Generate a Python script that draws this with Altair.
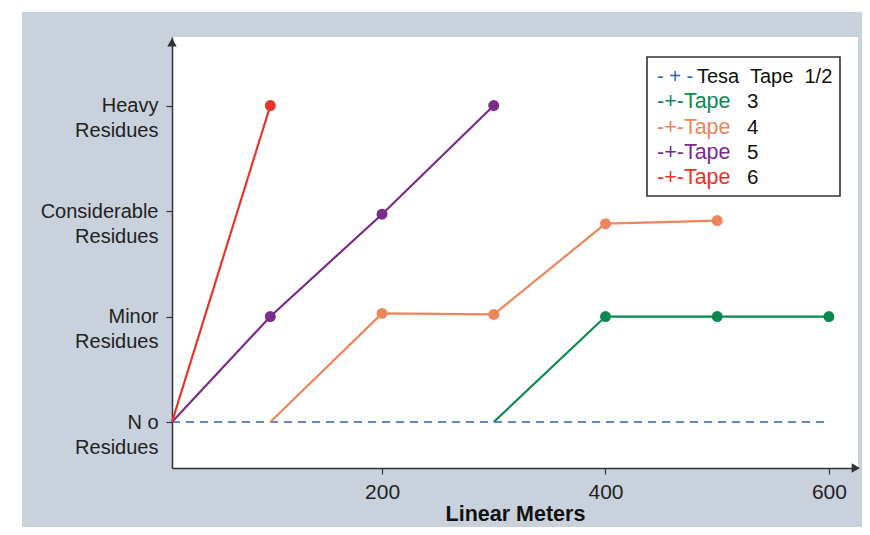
import altair as alt
import pandas as pd

# ---------------- data ----------------
series_names = ["Tesa Tape 1/2", "Tape 3", "Tape 4", "Tape 5", "Tape 6"]
series_colors = ["#2c63b6", "#0b8a4f", "#f0845a", "#7b2b8c", "#e6342a"]

tesa_x = [12, 100, 200, 300, 400, 500, 600]
tesa_y = [0, 0, 0, 0, 0, 0, 0]
tape3_x = [300, 400, 500, 600]
tape3_y = [0, 1, 1, 1]
tape4_x = [100, 200, 300, 400, 500]
tape4_y = [0, 1.03, 1.02, 1.88, 1.91]
tape5_x = [12, 100, 200, 300]
tape5_y = [0, 1, 1.97, 3]
tape6_x = [12, 100]
tape6_y = [0, 3]

y_levels = [0, 1, 2, 3]
y_label_lines = [["N o", "Residues"], ["Minor", "Residues"],
                 ["Considerable", "Residues"], ["Heavy", "Residues"]]
x_ticks = [200, 400, 600]

legend_prefix = ["- + -", "-+-Tape", "-+-Tape", "-+-Tape", "-+-Tape"]
legend_suffix = ["Tesa\u00a0 Tape\u00a0 1/2", "3", "4", "5", "6"]

x_domain = [12, 626]
y_domain = [-0.436, 3.65]

FONT = "Liberation Sans"

# ---------------- tables ----------------
rows = []
for name, xs, ys in [("Tape 3", tape3_x, tape3_y), ("Tape 4", tape4_x, tape4_y),
                     ("Tape 5", tape5_x, tape5_y), ("Tape 6", tape6_x, tape6_y)]:
    for i, (xv, yv) in enumerate(zip(xs, ys)):
        rows.append({"series": name, "x": xv, "y": yv, "i": i})
df = pd.DataFrame(rows)
tesa_df = pd.DataFrame({"series": series_names[0], "x": tesa_x, "y": tesa_y})

legend_df = pd.DataFrame({"series": series_names, "prefix": legend_prefix,
                          "suffix": legend_suffix, "row": list(range(5))})

arrow_df = pd.DataFrame({"x": [x_domain[0], x_domain[1] - 2],
                         "y": [y_domain[1] - 0.05, y_domain[0]],
                         "shape": ["triangle-up", "triangle-right"]})

# ---------------- encodings ----------------
label_expr = ""
for lv, lines in zip(y_levels, y_label_lines):
    arr = "[" + ",".join("'" + s + "'" for s in lines) + "]"
    label_expr += f"datum.value == {lv} ? {arr} : "
label_expr += "''"

x_enc = alt.X("x:Q", scale=alt.Scale(domain=x_domain, nice=False, zero=False),
              axis=alt.Axis(values=x_ticks, title="Linear Meters", labelFontSize=21,
                            labelPadding=7, tickSize=6, titleFontSize=21.5,
                            titleFontWeight="bold", titlePadding=1,
                            labelColor="#222", titleColor="#111"))
y_enc = alt.Y("y:Q", scale=alt.Scale(domain=y_domain, nice=False, zero=False),
              axis=alt.Axis(values=y_levels, labelExpr=label_expr, title=None,
                            labelFontSize=20, labelLineHeight=25,
                            labelBaseline="middle", labelOffset=0, labelPadding=8,
                            tickSize=6, labelColor="#222"))
color_scale = alt.Scale(domain=series_names, range=series_colors)
color_enc = alt.Color("series:N", scale=color_scale, legend=None)

# white scan margin at the top-left of the grey panel
one_row = pd.DataFrame({"a": [0]})
margin_left = alt.Chart(one_row).mark_rect(fill="white").encode(
    x=alt.value(-164), x2=alt.value(-150), y=alt.value(-29), y2=alt.value(490))
margin_top = alt.Chart(one_row).mark_rect(fill="white").encode(
    x=alt.value(-164), x2=alt.value(690), y=alt.value(-29), y2=alt.value(-25))

tesa_line = alt.Chart(tesa_df).mark_line(strokeDash=[8, 6], strokeWidth=1.6).encode(
    x=x_enc, y=y_enc, color=color_enc)

lines = alt.Chart(df).mark_line(strokeWidth=2.2).encode(
    x=x_enc, y=y_enc, color=color_enc, detail="series:N", order="i:Q")

points = alt.Chart(df).transform_filter("datum.y > 0").mark_circle(
    size=120, opacity=1).encode(x=x_enc, y=y_enc, color=color_enc)

arrows = alt.Chart(arrow_df).mark_point(filled=True, size=90, color="#333",
                                        opacity=1).encode(
    x=x_enc, y=y_enc, shape=alt.Shape("shape:N", scale=None))

legend_box = alt.Chart(one_row).mark_rect(
    fill="white", stroke="#333", strokeWidth=1.6).encode(
    x=alt.value(475), x2=alt.value(668), y=alt.value(20), y2=alt.value(159))

legend_base = alt.Chart(legend_df).transform_calculate(
    py="40 + datum.row * 25.25")

legend_prefix_tesa = legend_base.transform_filter("datum.row == 0").mark_text(
    align="left", baseline="middle", fontSize=20, font=FONT).encode(
    x=alt.value(485), y=alt.Y("py:Q", scale=None), text="prefix:N",
    color=alt.Color("series:N", scale=color_scale, legend=None))

legend_prefix_tape = legend_base.transform_filter("datum.row > 0").mark_text(
    align="left", baseline="middle", fontSize=21.5, font=FONT).encode(
    x=alt.value(485), y=alt.Y("py:Q", scale=None), text="prefix:N",
    color=alt.Color("series:N", scale=color_scale, legend=None))

legend_suffix_tesa = legend_base.transform_filter("datum.row == 0").mark_text(
    align="left", baseline="middle", fontSize=20, font=FONT, color="#111").encode(
    x=alt.value(525), y=alt.Y("py:Q", scale=None), text="suffix:N")

legend_suffix_tape = legend_base.transform_filter("datum.row > 0").mark_text(
    align="left", baseline="middle", fontSize=20.5, font=FONT, color="#111").encode(
    x=alt.value(575), y=alt.Y("py:Q", scale=None), text="suffix:N")

chart = alt.layer(
    margin_left, margin_top, tesa_line, lines, points, arrows, legend_box,
    legend_prefix_tesa, legend_prefix_tape, legend_suffix_tesa, legend_suffix_tape
).properties(
    width=686, height=431,
    padding={"left": 164, "top": 29, "right": 4, "bottom": 59},
    autosize=alt.AutoSizeParams(type="none"),
    background="#c9d1dc",
).configure_view(fill="white", stroke=None).configure_axis(
    grid=False, domainColor="#333", domainWidth=1.5, tickColor="#333",
    tickWidth=1.2, labelFont=FONT, titleFont=FONT,
)

chart.save("out.html", embed_options={"renderer": "svg", "actions": False})
